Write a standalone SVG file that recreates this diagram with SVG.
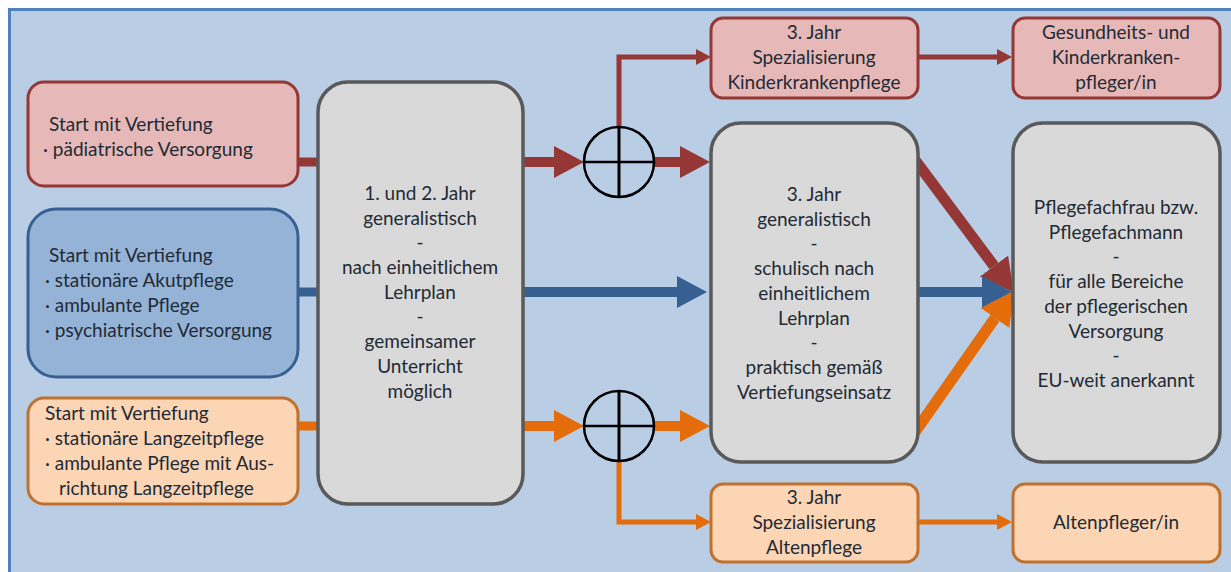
<svg xmlns="http://www.w3.org/2000/svg" width="1231" height="572" viewBox="0 0 1231 572">
<style>
.t{font-family:Lato,"Liberation Sans",sans-serif;font-size:19px;fill:#222a35}
.c{text-anchor:middle}
.pink{fill:#e6b9b8;stroke:#953735;stroke-width:3}
.blue{fill:#95b3d7;stroke:#376092;stroke-width:3}
.orange{fill:#fcd5b5;stroke:#c0712f;stroke-width:3}
.gray{fill:#d9d9d9;stroke:#595959;stroke-width:3.5}
.lr{stroke:#953735;fill:none}
.lb{stroke:#376092;fill:none}
.lo{stroke:#e46c0a;fill:none}
.circ{fill:none;stroke:#000;stroke-width:2.5}
</style>
<defs>
<marker id="ar" viewBox="0 0 3 3.2" refX="0" refY="1.6" markerWidth="3" markerHeight="3.2" orient="auto" markerUnits="strokeWidth"><path d="M0,0 L3,1.6 L0,3.2 z" fill="#953735"/></marker>
<marker id="ab" viewBox="0 0 3 3.2" refX="0" refY="1.6" markerWidth="3" markerHeight="3.2" orient="auto" markerUnits="strokeWidth"><path d="M0,0 L3,1.6 L0,3.2 z" fill="#376092"/></marker>
<marker id="ao" viewBox="0 0 3 3.2" refX="0" refY="1.6" markerWidth="3" markerHeight="3.2" orient="auto" markerUnits="strokeWidth"><path d="M0,0 L3,1.6 L0,3.2 z" fill="#e46c0a"/></marker>
</defs>
<rect x="0" y="0" width="1231" height="572" fill="#ffffff"/>
<rect x="8" y="8" width="1223" height="564" fill="#b9cde5"/>
<path d="M9.5,572 V9.5 H1231" fill="none" stroke="#4f81bd" stroke-width="3"/>

<g id="connectors">
<line class="lr" x1="296" y1="162" x2="319" y2="162" stroke-width="9"/>
<line class="lb" x1="296" y1="292" x2="319" y2="292" stroke-width="9"/>
<line class="lo" x1="296" y1="426" x2="319" y2="426" stroke-width="9"/>
<line class="lr" x1="523" y1="162" x2="554" y2="162" stroke-width="10" marker-end="url(#ar)"/>
<line class="lr" x1="654" y1="162" x2="680" y2="162" stroke-width="10" marker-end="url(#ar)"/>
<polyline class="lr" points="619,127 619,57 696,57" stroke-width="5" marker-end="url(#ar)"/>
<line class="lr" x1="918" y1="57" x2="997" y2="57" stroke-width="5" marker-end="url(#ar)"/>
<line class="lb" x1="523" y1="292" x2="677" y2="292" stroke-width="10" marker-end="url(#ab)"/>
<line class="lo" x1="523" y1="426" x2="554" y2="426" stroke-width="10" marker-end="url(#ao)"/>
<line class="lo" x1="654" y1="426" x2="680" y2="426" stroke-width="10" marker-end="url(#ao)"/>
<polyline class="lo" points="619,461 619,522 696,522" stroke-width="5" marker-end="url(#ao)"/>
<line class="lo" x1="918" y1="522" x2="997" y2="522" stroke-width="5" marker-end="url(#ao)"/>
<line class="lr" x1="915" y1="160" x2="994" y2="266" stroke-width="11" marker-end="url(#ar)"/>
<line class="lb" x1="918" y1="292" x2="982" y2="292" stroke-width="10" marker-end="url(#ab)"/>
<line class="lo" x1="915" y1="432" x2="995" y2="318" stroke-width="11" marker-end="url(#ao)"/>
</g>

<g id="start-paediatrisch">
<rect class="pink" x="28" y="82" width="270" height="104" rx="16"/>
<text class="t" x="49" y="131">Start mit Vertiefung</text>
<text class="t" x="43" y="156">· pädiatrische Versorgung</text>
</g>
<g id="start-akut">
<rect class="blue" x="28" y="209" width="270" height="168" rx="28"/>
<text class="t" x="49" y="262">Start mit Vertiefung</text>
<text class="t" x="45" y="287">· stationäre Akutpflege</text>
<text class="t" x="45" y="312">· ambulante Pflege</text>
<text class="t" x="45" y="337">· psychiatrische Versorgung</text>
</g>
<g id="start-langzeit">
<rect class="orange" x="28" y="398" width="270" height="106" rx="16"/>
<text class="t" x="45" y="420">Start mit Vertiefung</text>
<text class="t" x="45" y="445">· stationäre Langzeitpflege</text>
<text class="t" x="45" y="470">· ambulante Pflege mit Aus-</text>
<text class="t" x="59" y="495">richtung Langzeitpflege</text>
</g>
<g id="jahr12">
<rect class="gray" x="318" y="82" width="205" height="422" rx="30"/>
<text class="t c" x="420" y="200">1. und 2. Jahr</text>
<text class="t c" x="420" y="225">generalistisch</text>
<text class="t c" x="420" y="249">-</text>
<text class="t c" x="420" y="274">nach einheitlichem</text>
<text class="t c" x="420" y="299">Lehrplan</text>
<text class="t c" x="420" y="323">-</text>
<text class="t c" x="420" y="348">gemeinsamer</text>
<text class="t c" x="420" y="373">Unterricht</text>
<text class="t c" x="420" y="398">möglich</text>
</g>
<g id="knoten-oben">
<circle class="circ" cx="619" cy="162" r="35"/>
<line x1="584" y1="162" x2="654" y2="162" stroke="#000" stroke-width="2.5"/>
<line x1="619" y1="127" x2="619" y2="197" stroke="#000" stroke-width="3"/>
</g>
<g id="knoten-unten">
<circle class="circ" cx="619" cy="426" r="35"/>
<line x1="584" y1="426" x2="654" y2="426" stroke="#000" stroke-width="2.5"/>
<line x1="619" y1="391" x2="619" y2="461" stroke="#000" stroke-width="3"/>
</g>
<g id="spez-kinder">
<rect class="pink" x="711" y="18" width="207" height="80" rx="12"/>
<text class="t c" x="814" y="39">3. Jahr</text>
<text class="t c" x="814" y="64">Spezialisierung</text>
<text class="t c" x="814" y="89">Kinderkrankenpflege</text>
</g>
<g id="jahr3">
<rect class="gray" x="711" y="123" width="207" height="339" rx="30"/>
<text class="t c" x="814" y="201">3. Jahr</text>
<text class="t c" x="814" y="226">generalistisch</text>
<text class="t c" x="814" y="250">-</text>
<text class="t c" x="814" y="275">schulisch nach</text>
<text class="t c" x="814" y="300">einheitlichem</text>
<text class="t c" x="814" y="325">Lehrplan</text>
<text class="t c" x="814" y="349">-</text>
<text class="t c" x="814" y="374">praktisch gemäß</text>
<text class="t c" x="814" y="399">Vertiefungseinsatz</text>
</g>
<g id="spez-alten">
<rect class="orange" x="711" y="484" width="207" height="78" rx="12"/>
<text class="t c" x="814" y="504">3. Jahr</text>
<text class="t c" x="814" y="529">Spezialisierung</text>
<text class="t c" x="814" y="554">Altenpflege</text>
</g>
<g id="kinderkrankenpfleger">
<rect class="pink" x="1013" y="18" width="207" height="80" rx="12"/>
<text class="t c" x="1116" y="39">Gesundheits- und</text>
<text class="t c" x="1116" y="64">Kinderkranken-</text>
<text class="t c" x="1116" y="89">pfleger/in</text>
</g>
<g id="pflegefachfrau">
<rect class="gray" x="1013" y="123" width="207" height="339" rx="30"/>
<text class="t c" x="1116" y="214">Pflegefachfrau bzw.</text>
<text class="t c" x="1116" y="239">Pflegefachmann</text>
<text class="t c" x="1116" y="263">-</text>
<text class="t c" x="1116" y="288">für alle Bereiche</text>
<text class="t c" x="1116" y="313">der pflegerischen</text>
<text class="t c" x="1116" y="338">Versorgung</text>
<text class="t c" x="1116" y="362">-</text>
<text class="t c" x="1116" y="387">EU-weit anerkannt</text>
</g>
<g id="altenpfleger">
<rect class="orange" x="1013" y="484" width="207" height="78" rx="12"/>
<text class="t c" x="1116" y="529">Altenpfleger/in</text>
</g>
</svg>
